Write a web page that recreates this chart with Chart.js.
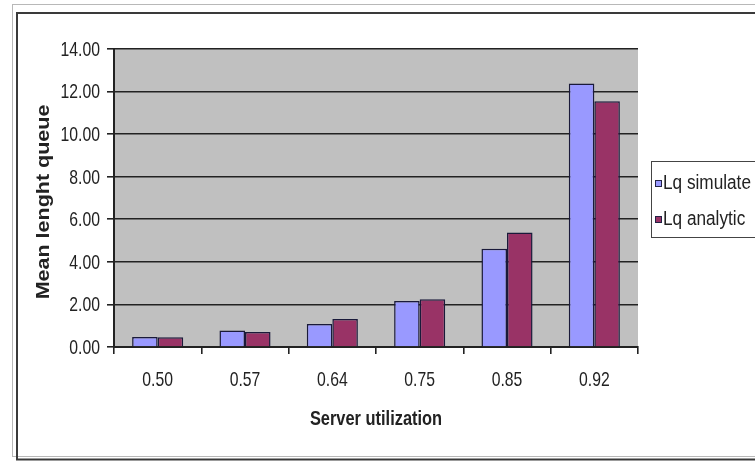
<!DOCTYPE html>
<html>
<head>
<meta charset="utf-8">
<script src="https://cdn.jsdelivr.net/npm/chart.js@4.4.1/dist/chart.umd.min.js"></script>
<style>
  html, body { margin: 0; padding: 0; background: #ffffff; }
  #wrap { width: 755px; height: 461px; position: relative; }
</style>
</head>
<body>
<div id="wrap"><canvas id="chart" width="755" height="461"></canvas></div>
<script>
// Server utilization levels (x categories)
const utilization = ['0.50', '0.57', '0.64', '0.75', '0.85', '0.92'];
// Mean queue length from the simulation
const lqSimulate = [0.47, 0.78, 1.08, 2.16, 4.62, 12.38];
// Mean queue length from the analytic model
const lqAnalytic = [0.46, 0.70, 1.31, 2.24, 5.38, 11.55];
// Value axis
const yMin = 0, yMax = 14, yStep = 2;

const seriesNames = ['Lq simulate', 'Lq analytic'];
const seriesColors = ['#9999ff', '#993366'];
const xTitle = 'Server utilization';
const yTitle = 'Mean lenght queue';

const family = '"Liberation Sans", Arial, sans-serif';
const ink = '#222222';

// Draw a label squeezed horizontally by sx (condensed look)
function squeezedText(ctx, text, x, y, sx, align, font) {
  ctx.save();
  ctx.translate(x, y);
  ctx.scale(sx, 1);
  ctx.font = font;
  ctx.textAlign = align;
  ctx.textBaseline = 'middle';
  ctx.fillStyle = ink;
  ctx.fillText(text, 0, 0);
  ctx.restore();
}

// Outer frame and plot backdrop
const framePlugin = {
  id: 'frame',
  beforeDraw(chart) {
    const ctx = chart.ctx;
    const a = chart.chartArea;
    ctx.save();
    ctx.fillStyle = '#ffffff';
    ctx.fillRect(0, 0, chart.width, chart.height);
    ctx.strokeStyle = '#b8b8b8';
    ctx.lineWidth = 1;
    ctx.strokeRect(12.5, 4.5, 800, 452);
    ctx.strokeStyle = '#3a3a3a';
    ctx.lineWidth = 2;
    ctx.strokeRect(17, 13, 800, 446.5);
    ctx.fillStyle = '#c0c0c0';
    ctx.fillRect(a.left, a.top, a.right - a.left, a.bottom - a.top);
    ctx.restore();
  }
};

// Axis labels and titles in a condensed face
const axisTextPlugin = {
  id: 'axisText',
  afterDraw(chart) {
    const ctx = chart.ctx;
    const xs = chart.scales.x, ys = chart.scales.y;
    const tickFont = '21px ' + family;
    ys.ticks.forEach((t, i) => {
      squeezedText(ctx, Number(t.value).toFixed(2), 100, ys.getPixelForTick(i) + 1, 0.75, 'right', tickFont);
    });
    chart.data.labels.forEach((lab, i) => {
      squeezedText(ctx, lab, xs.getPixelForValue(i), 380, 0.75, 'center', tickFont);
    });
    squeezedText(ctx, xTitle, (xs.left + xs.right) / 2, 419, 0.82, 'center', 'bold 20px ' + family);
    // rotated value-axis title
    ctx.save();
    ctx.translate(44, (ys.top + ys.bottom) / 2 + 4);
    ctx.rotate(-Math.PI / 2);
    ctx.scale(1, 0.88);
    ctx.font = 'bold 21.5px ' + family;
    ctx.textAlign = 'center';
    ctx.textBaseline = 'middle';
    ctx.fillStyle = ink;
    ctx.fillText(yTitle, 0, 0);
    ctx.restore();
  }
};

// Boxed legend to the right of the plot
const boxLegendPlugin = {
  id: 'boxLegend',
  afterDraw(chart) {
    const ctx = chart.ctx;
    const sets = chart.data.datasets;
    ctx.save();
    ctx.fillStyle = '#ffffff';
    ctx.fillRect(651, 161, 120, 76);
    ctx.strokeStyle = '#444444';
    ctx.lineWidth = 1;
    ctx.strokeRect(651.5, 161.5, 120, 76);
    sets.forEach((ds, i) => {
      const y = 183 + i * 36;
      ctx.fillStyle = ds.backgroundColor;
      ctx.fillRect(655.5, y - 2.5, 6, 6);
      ctx.strokeStyle = '#222244';
      ctx.strokeRect(655.5, y - 2.5, 6, 6);
      squeezedText(ctx, ds.label, 663, y, 0.86, 'left', '20px ' + family);
    });
    ctx.restore();
  }
};

new Chart(document.getElementById('chart'), {
  type: 'bar',
  data: {
    labels: utilization,
    datasets: [
      { label: seriesNames[0], data: lqSimulate, backgroundColor: seriesColors[0],
        borderColor: '#1a1a3a', borderWidth: 1.5 },
      { label: seriesNames[1], data: lqAnalytic, backgroundColor: seriesColors[1],
        borderColor: '#1a1a3a', borderWidth: 1.5 }
    ]
  },
  options: {
    responsive: false,
    animation: false,
    devicePixelRatio: 1,
    categoryPercentage: 0.585,
    barPercentage: 1.0,
    layout: { padding: { left: 0, top: 49, right: 117, bottom: 0 } },
    plugins: {
      legend: { display: false },
      tooltip: { enabled: false }
    },
    scales: {
      x: {
        grid: { offset: true, drawOnChartArea: false, drawTicks: true, tickLength: 7,
                color: ink, lineWidth: 1.6 },
        border: { display: true, color: ink, width: 2 },
        ticks: { display: false },
        afterFit(scale) { scale.height = 114; }
      },
      y: {
        min: yMin, max: yMax,
        grid: { color: ink, lineWidth: 1.6, tickLength: 7, drawTicks: true },
        border: { display: true, color: ink, width: 2 },
        ticks: { display: false, stepSize: yStep },
        afterFit(scale) { scale.width = 114; }
      }
    }
  },
  plugins: [framePlugin, axisTextPlugin, boxLegendPlugin]
});
</script>
</body>
</html>
